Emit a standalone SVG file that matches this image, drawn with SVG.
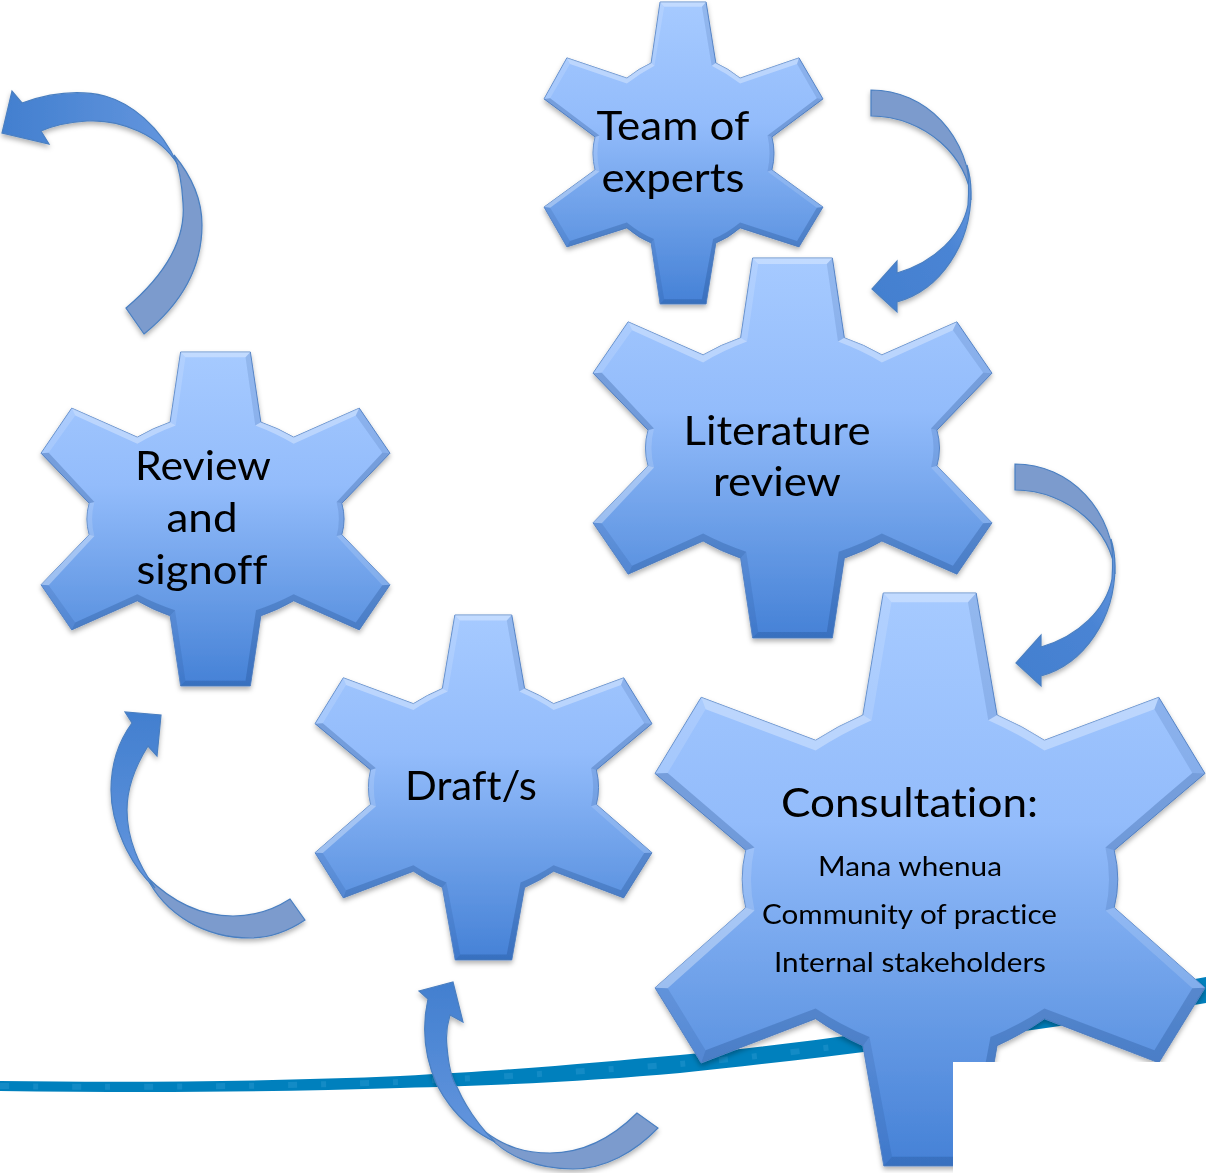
<svg xmlns="http://www.w3.org/2000/svg" xmlns:xlink="http://www.w3.org/1999/xlink" width="1206" height="1173" viewBox="0 0 1206 1173">
<style>
text{font-family:"Lato","Liberation Sans",sans-serif;fill:#000;text-anchor:middle;font-size:41px;font-variant-ligatures:none}
text.s{font-size:27px}
.base{fill:url(#gearFill);stroke:#5c8acb;stroke-width:1;vector-effect:non-scaling-stroke}
.l1{fill:#fff;fill-opacity:.32}
.l2{fill:#fff;fill-opacity:.14}
.d1{fill:#17407f;fill-opacity:.26}
.d2{fill:#17407f;fill-opacity:.13}
.back{fill:#7b9bcd;stroke:#4a7fc1;stroke-width:1.2}
.front{stroke:#4a7fc1;stroke-width:1.2}
</style>
<defs>
<linearGradient id="gearFill" x1="0" y1="0" x2="0" y2="1">
<stop offset="0" stop-color="#a6caff"/><stop offset=".4" stop-color="#93bcfb"/><stop offset=".7" stop-color="#6c9fe8"/><stop offset="1" stop-color="#4581d6"/>
</linearGradient>
<linearGradient id="fd" x1="0" y1="0" x2="1" y2="0"><stop offset="0" stop-color="#427fcf"/><stop offset="1" stop-color="#6496de"/></linearGradient>
<linearGradient id="fr" x1="0" y1="1" x2="1" y2="0"><stop offset="0" stop-color="#427fcf"/><stop offset=".6" stop-color="#4a84d4"/><stop offset="1" stop-color="#6a9ae0"/></linearGradient>
<linearGradient id="fu" x1="0" y1="0" x2="0" y2="1"><stop offset="0" stop-color="#427fcf"/><stop offset="1" stop-color="#6496de"/></linearGradient>
<filter id="sh" x="-10%" y="-10%" width="120%" height="120%"><feDropShadow dx="0" dy="3" stdDeviation="2.5" flood-color="#000" flood-opacity=".3"/></filter>
<g id="gearT">
<path class="base" d="M416,0H581L616,202Q660,220 703,252L914,185L1000,321L817,447Q832,500 817,556L1000,679L914,811L703,748Q660,782 616,798L581,1000H416L384,798Q340,782 297,748L82,811L0,679L183,556Q168,500 183,447L0,321L82,185L297,252Q340,220 384,202Z"/>
<path class="l1" d="M416,0H581L566,16H431ZM384,202Q340,220 297,252V270Q345,236 396,211ZM616,202Q660,220 703,252V270Q655,236 601,211ZM297,252L82,185L93,205L297,270ZM703,252L914,185L907,205L703,270ZM183,556L0,679L22,681L199,561Z"/>
<path class="l2" d="M416,0L384,202L396,211L431,16ZM82,185L0,321L22,319L93,205ZM183,447Q168,500 183,556L199,561Q184,500 199,442ZM817,556L1000,679L978,681L801,561Z"/>
<path class="d2" d="M581,0L616,202L601,211L566,16ZM914,185L1000,321L978,319L907,205ZM817,447Q832,500 817,556L801,561Q816,500 801,442ZM0,679L82,811L93,791L22,681ZM384,798L416,1000L431,984L394,785Z"/>
<path class="d1" d="M0,321L183,447L199,442L22,319ZM1000,321L817,447L801,442L978,319ZM1000,679L914,811L907,791L978,681ZM82,811L297,748V730L93,791ZM914,811L703,748V730L907,791ZM297,748Q340,782 384,798L394,785Q345,766 297,730ZM703,748Q660,782 616,798L606,785Q655,766 703,730ZM616,798L581,1000L566,984L606,785ZM416,1000H581L566,984H431Z"/>
</g>
<g id="gearB">
<path class="base" d="M400,0H600L630,210Q680,228 724,255L912,168L1000,303L862,453Q875,500 862,547L1000,697L912,832L724,745Q680,772 630,790L600,1000H400L370,790Q320,772 276,745L88,832L0,697L138,547Q125,500 138,453L0,303L88,168L276,255Q320,228 370,210Z"/>
<path class="l1" d="M400,0H600L586,16H414ZM370,210Q320,228 276,255V275Q325,244 386,220ZM630,210Q680,228 724,255V275Q675,244 614,220ZM276,255L88,168L98,190L276,275ZM724,255L912,168L902,190L724,275ZM138,547L0,697L22,698L153,551Z"/>
<path class="l2" d="M400,0L370,210L386,220L414,16ZM88,168L0,303L22,302L98,190ZM138,453Q125,500 138,547L153,551Q140,500 153,449ZM862,547L1000,697L978,698L847,551Z"/>
<path class="d2" d="M600,0L630,210L614,220L586,16ZM912,168L1000,303L978,302L902,190ZM862,453Q875,500 862,547L847,551Q860,500 847,449ZM0,697L88,832L98,810L22,698ZM370,790L400,1000L414,984L384,773Z"/>
<path class="d1" d="M0,303L138,453L153,449L22,302ZM1000,303L862,453L847,449L978,302ZM1000,697L912,832L902,810L978,698ZM88,832L276,745V725L98,810ZM912,832L724,745V725L902,810ZM276,745Q320,772 370,790L384,773Q325,752 276,725ZM724,745Q680,772 630,790L616,773Q675,752 724,725ZM630,790L600,1000L586,984L616,773ZM400,1000H600L586,984H414Z"/>
</g>
<g id="gearC">
<path class="base" d="M415,0H584L622,213Q668,232 708,257L916,182L1000,315L835,449Q848,500 835,549L1000,689L916,820L708,743Q668,770 622,790L584,1000H416L378,790Q332,770 292,743L84,820L0,689L165,549Q152,500 165,449L0,315L84,182L292,257Q332,232 378,213Z"/>
<path class="l1" d="M415,0H584L569,16H430ZM378,213Q332,232 292,257V275Q338,246 394,222ZM622,213Q668,232 708,257V275Q662,246 606,222ZM292,257L84,182L92,203L292,275ZM708,257L916,182L908,203L708,275ZM165,549L0,689L23,690L181,554Z"/>
<path class="l2" d="M415,0L378,213L394,222L430,16ZM84,182L0,315L23,314L92,203ZM165,449Q152,500 165,549L181,554Q168,500 181,444ZM835,549L1000,689L977,690L819,554Z"/>
<path class="d2" d="M584,0L622,213L606,222L569,16ZM916,182L1000,315L977,314L908,203ZM835,449Q848,500 835,549L819,554Q832,500 819,444ZM0,689L84,820L92,798L23,690ZM378,790L416,1000L431,984L390,775Z"/>
<path class="d1" d="M0,315L165,449L181,444L23,314ZM1000,315L835,449L819,444L977,314ZM1000,689L916,820L908,798L977,690ZM84,820L292,743V725L92,798ZM916,820L708,743V725L908,798ZM292,743Q332,770 378,790L390,775Q338,754 292,725ZM708,743Q668,770 622,790L610,775Q662,754 708,725ZM622,790L584,1000L569,984L610,775ZM416,1000H584L569,984H431Z"/>
</g>
<g id="arrowRight">
<path class="back" d="M871,90C925,90 971,135 971,200C969,158 925,116 871,116Z"/>
<path class="front" fill="url(#fr)" d="M967,165C970,175 971,185 971,192C971,245 940,290 897,302L897,312L872,289L897,261L897,273C935,262 962,235 968,205C969,190 969,178 967,165Z"/>
</g>
</defs>
<path id="ribbon" fill="#0080bd" d="M0,1081C150,1083 280,1081 400,1076C520,1070 600,1062 680,1055C850,1040 1050,1005 1206,977V1003C1050,1030 850,1055 680,1073C600,1080 520,1085 400,1088C280,1092 150,1093 0,1091Z"/>
<path fill="none" stroke="#2b9ad0" stroke-opacity=".45" stroke-width="6" stroke-dasharray="9 24 5 34" d="M0,1086C150,1088 280,1086 400,1082C520,1076 600,1070 680,1064C850,1048 1050,1018 1206,990"/>
<g id="connectors" filter="url(#sh)">
<g id="c-team-literature"><use href="#arrowRight"/></g>
<g id="c-literature-consultation"><use href="#arrowRight" transform="translate(144,374)"/></g>
<g id="c-consultation-draft">
<path class="back" d="M637,1113C610,1140 580,1153 550,1153C525,1153 505,1147 484,1131C505,1158 540,1169 573,1169C605,1169 635,1152 658,1128Z"/>
<path class="front" fill="url(#fu)" d="M428,999L419,991L453,982L463,1022L450,1015C446,1028 446,1038 447,1047C449,1070 452,1080 457,1087C465,1105 475,1122 495,1142C470,1130 450,1110 437,1085C428,1065 420,1035 428,999Z"/>
</g>
<g id="c-draft-review">
<path class="back" d="M290,899C270,912 250,916 233,916C200,916 170,900 146,876C165,915 205,938 250,938C272,938 290,930 305,920Z"/>
<path class="front" fill="url(#fu)" d="M132,723L125,712L161,715L157,756L148,746C133,770 127,790 127,810C127,835 135,860 155,888C130,865 111,825 111,790C111,765 118,742 132,723Z"/>
</g>
<g id="c-review-out">
<path class="back" d="M126,308C165,275 186,240 183,203C182,185 180,170 174,155C195,180 202,205 202,225C202,270 180,305 144,334Z"/>
<path class="front" fill="url(#fd)" d="M22,103L12,91L2,133L49,144L41,131C55,125 70,122 87,121C120,119 160,135 178,165C160,125 130,103 105,96C80,90 50,93 22,103Z"/>
</g>
</g>
<g id="node-review" filter="url(#sh)"><use href="#gearB" transform="translate(41,352) scale(.349,.334)"/><text x="203" y="480" textLength="136" lengthAdjust="spacingAndGlyphs">Review</text><text x="202" y="532" textLength="71" lengthAdjust="spacingAndGlyphs">and</text><text x="202" y="584" textLength="131" lengthAdjust="spacingAndGlyphs">signoff</text></g>
<g id="node-team" filter="url(#sh)"><use href="#gearT" transform="translate(544,2) scale(.279,.302)"/><text x="673" y="140" textLength="153" lengthAdjust="spacingAndGlyphs">Team of</text><text x="673" y="192" textLength="143" lengthAdjust="spacingAndGlyphs">experts</text></g>
<g id="node-literature" filter="url(#sh)"><use href="#gearB" transform="translate(593,258) scale(.399,.38)"/><text x="777" y="445" textLength="187" lengthAdjust="spacingAndGlyphs">Literature</text><text x="777" y="496" textLength="128" lengthAdjust="spacingAndGlyphs">review</text></g>
<g id="node-draft" filter="url(#sh)"><use href="#gearC" transform="translate(315,615) scale(.337,.345)"/><text x="471" y="800" textLength="132" lengthAdjust="spacingAndGlyphs">Draft/s</text></g>
<g id="node-consultation" filter="url(#sh)"><use href="#gearC" transform="translate(655,593) scale(.55,.573)"/><text x="909.5" y="817" textLength="257" lengthAdjust="spacingAndGlyphs">Consultation:</text><text class="s" x="910" y="876" textLength="184" lengthAdjust="spacingAndGlyphs">Mana whenua</text><text class="s" x="909.5" y="924" textLength="295" lengthAdjust="spacingAndGlyphs">Community of practice</text><text class="s" x="910" y="972" textLength="272" lengthAdjust="spacingAndGlyphs">Internal stakeholders</text></g>
<rect x="953" y="1062" width="253" height="111" fill="#fff"/>
</svg>
